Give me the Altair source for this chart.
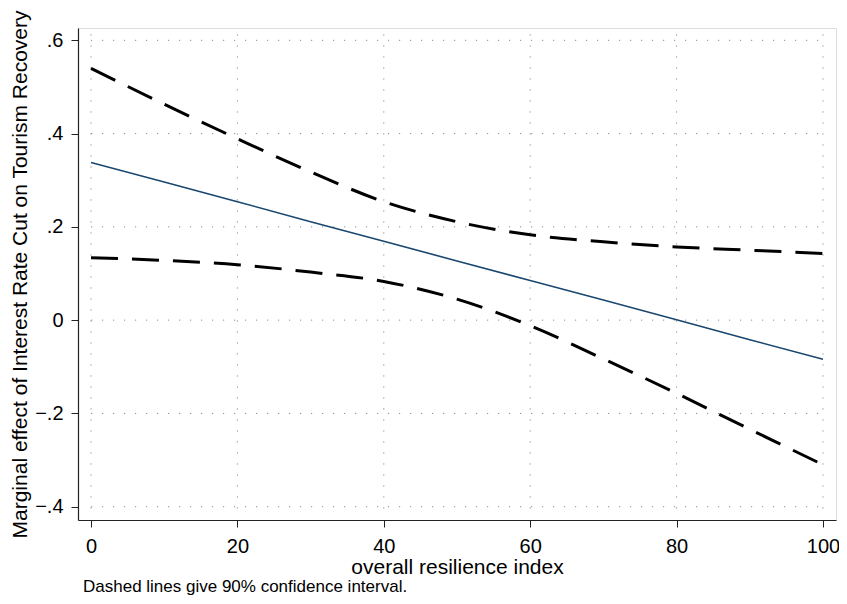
import altair as alt
import pandas as pd

# values
xs = [0, 10, 20, 30, 40, 50, 60, 70, 80, 90, 100]
effect = [0.338, 0.296, 0.254, 0.211, 0.169, 0.127, 0.085, 0.043, 0.001, -0.042, -0.084]
upper = [0.540, 0.463, 0.389, 0.318, 0.254, 0.211, 0.183, 0.168, 0.157, 0.150, 0.143]
lower = [0.134, 0.128, 0.119, 0.103, 0.083, 0.045, -0.012, -0.083, -0.157, -0.234, -0.310]

x_ticks = [0, 20, 40, 60, 80, 100]
y_ticks = [-0.4, -0.2, 0, 0.2, 0.4, 0.6]
x_title = "overall resilience index"
y_title = "Marginal effect of Interest Rate Cut on Tourism Recovery"
note = "Dashed lines give 90% confidence interval."

FONT = "Liberation Sans"

df_eff = pd.DataFrame({"x": xs, "y": effect})
df_ci = pd.concat([
    pd.DataFrame({"x": xs, "y": upper, "band": "upper"}),
    pd.DataFrame({"x": xs, "y": lower, "band": "lower"}),
])
df_vgrid = pd.DataFrame({"x": x_ticks, "y0": [-0.404] * len(x_ticks), "y1": [0.624] * len(x_ticks)})
df_hgrid = pd.DataFrame({"y": y_ticks, "x0": [0.0] * len(y_ticks), "x1": [100.4] * len(y_ticks)})

xscale = alt.Scale(domain=[-1.776, 101.78], nice=False, zero=False)
yscale = alt.Scale(domain=[-0.4285, 0.6264], nice=False, zero=False)

xaxis = alt.Axis(
    values=x_ticks, grid=False, title=x_title,
    labelFont=FONT, labelFontSize=20, labelColor="black", labelPadding=9,
    tickSize=7, tickColor="#222222", domainColor="#222222", domainWidth=1.2,
    titleFont=FONT, titleFontSize=21, titleFontWeight="normal", titleColor="black",
    titleBaseline="alphabetic", titleY=53,
)
yaxis = alt.Axis(
    values=y_ticks, grid=False, title=y_title,
    labelExpr="datum.value == 0 ? '0' : replace(format(datum.value, '.1f'), '0.', '.')",
    labelFont=FONT, labelFontSize=20, labelColor="black", labelPadding=8,
    tickSize=7, tickColor="#222222", domainColor="#222222", domainWidth=1.2,
    titleFont=FONT, titleFontSize=21, titleFontWeight="normal", titleColor="black",
    titleAngle=-90, titleBaseline="alphabetic", titleX=-52, titleY=246, titleAlign="center",
)

vgrid = alt.Chart(df_vgrid).mark_rule(color="#8c8c8c", strokeWidth=1, strokeDash=[1.2, 9.8]).encode(
    x=alt.X("x:Q", scale=xscale, axis=xaxis),
    y=alt.Y("y0:Q", scale=yscale, axis=yaxis),
    y2="y1:Q",
)
hgrid = alt.Chart(df_hgrid).mark_rule(color="#8c8c8c", strokeWidth=1, strokeDash=[1.2, 9.8]).encode(
    y=alt.Y("y:Q", scale=yscale),
    x=alt.X("x0:Q", scale=xscale),
    x2="x1:Q",
)
ci = alt.Chart(df_ci).mark_line(color="black", strokeWidth=3, strokeDash=[27, 14], interpolate="monotone").encode(
    x=alt.X("x:Q", scale=xscale),
    y=alt.Y("y:Q", scale=yscale),
    detail="band:N",
)
eff = alt.Chart(df_eff).mark_line(color="#1a476f", strokeWidth=1.6).encode(
    x=alt.X("x:Q", scale=xscale),
    y=alt.Y("y:Q", scale=yscale),
)
caption = alt.Chart(pd.DataFrame({"t": [note]})).mark_text(
    font=FONT, fontSize=17, color="black", align="left", baseline="alphabetic"
).encode(x=alt.value(5), y=alt.value(564), text="t:N")

chart = alt.layer(vgrid, hgrid, ci, eff, caption).properties(
    width=758, height=492,
    autosize=alt.AutoSizeParams(type="none"),
    padding={"left": 70, "top": 20, "right": 3, "bottom": 76},
).configure_view(stroke=None).configure(background="white")

chart.save("out.html", embed_options={"renderer": "svg", "actions": False})
